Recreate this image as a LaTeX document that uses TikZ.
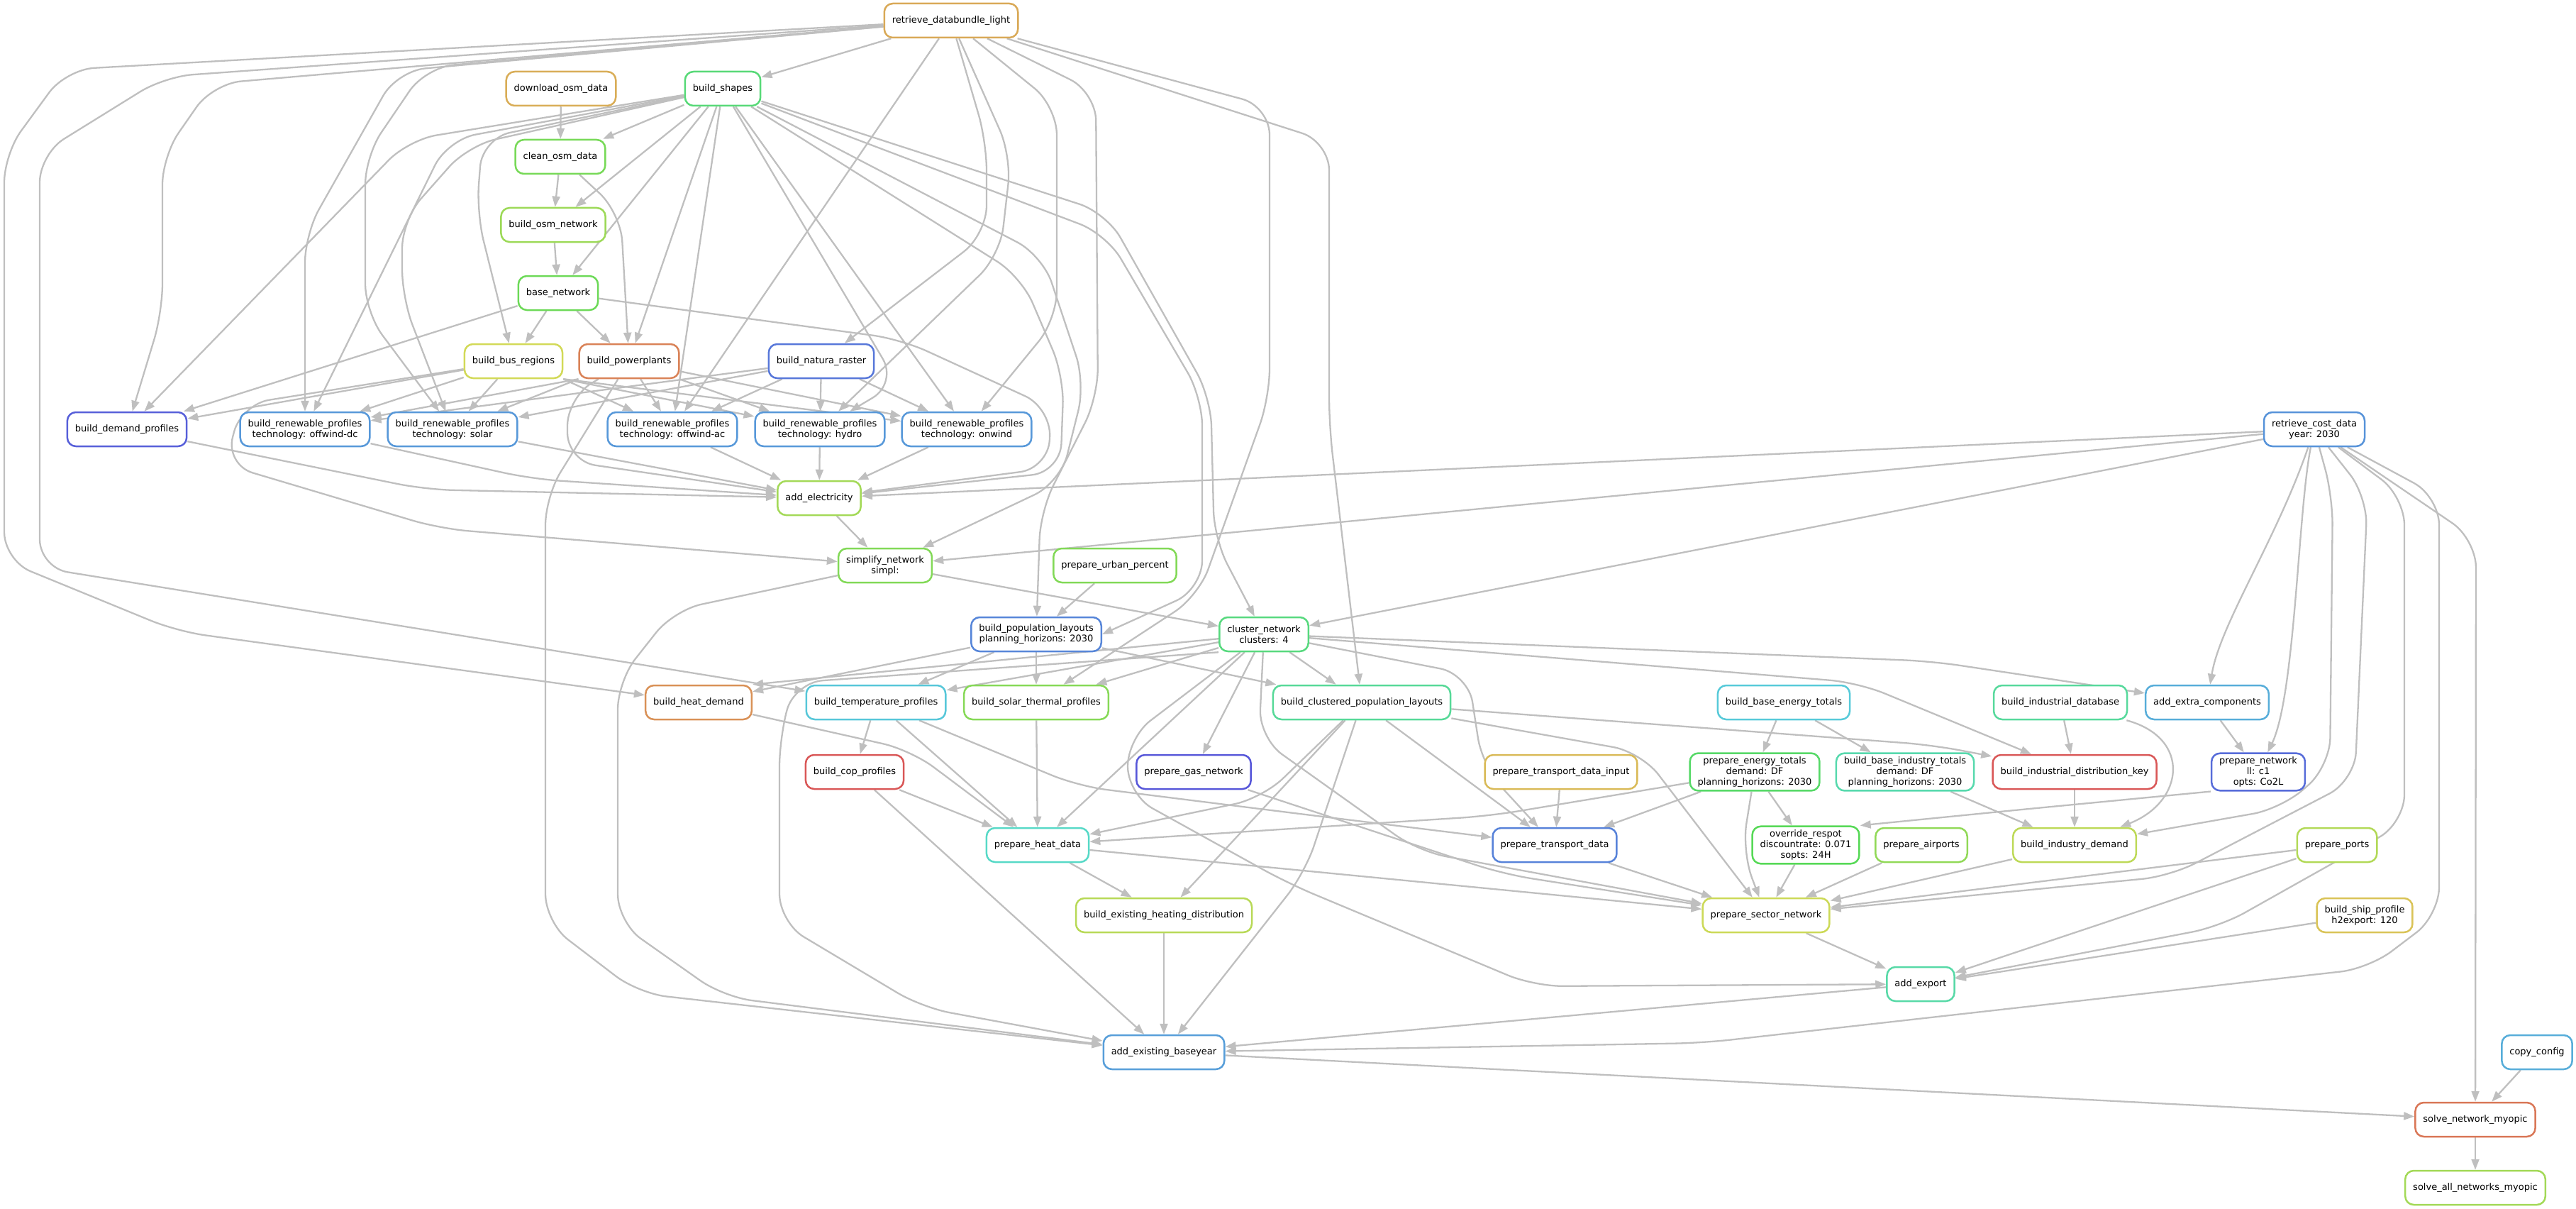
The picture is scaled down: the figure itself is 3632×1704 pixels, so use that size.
\documentclass[tikz,border=0pt]{standalone}
\usepackage{fontspec}
\usepackage{tikz}
\usetikzlibrary{arrows.meta, backgrounds}
\usepackage{xcolor}
\newfontfamily\dagfont{DejaVu Sans}

% rule colours (hue, 0.6, 0.85 as in the snakemake dag), kept as rgb for pgf
\newcommand{\rulecolour}[2]{\definecolor{#1hsb}{Hsb}{#2,0.6,0.85}\colorlet{#1}[rgb]{#1hsb}}
\rulecolour{hBundle}{38}
\rulecolour{hDownload}{40}
\rulecolour{hShapes}{135}
\rulecolour{hCleanOsm}{105}
\rulecolour{hOsmNet}{88}
\rulecolour{hBase}{110}
\rulecolour{hBusReg}{63}
\rulecolour{hPowerpl}{20}
\rulecolour{hNatura}{225}
\rulecolour{hDemand}{236}
\rulecolour{hRenew}{210}
\rulecolour{hAddElec}{85}
\rulecolour{hSimplify}{100}
\rulecolour{hUrban}{100}
\rulecolour{hPopLay}{218}
\rulecolour{hCluster}{138}
\rulecolour{hHeatDem}{27}
\rulecolour{hTemp}{188}
\rulecolour{hSolTh}{98}
\rulecolour{hClPop}{150}
\rulecolour{hBaseEn}{187}
\rulecolour{hTranspIn}{46}
\rulecolour{hEnTot}{128}
\rulecolour{hBaseInd}{160}
\rulecolour{hIndDb}{152}
\rulecolour{hExtra}{200}
\rulecolour{hIndKey}{0}
\rulecolour{hPrepNet}{230}
\rulecolour{hCost}{212}
\rulecolour{hHeatData}{172}
\rulecolour{hExHeat}{75}
\rulecolour{hBaseyear}{207}
\rulecolour{hTransp}{220}
\rulecolour{hRespot}{120}
\rulecolour{hAirports}{93}
\rulecolour{hSector}{66}
\rulecolour{hExport}{157}
\rulecolour{hIndDem}{73}
\rulecolour{hPorts}{78}
\rulecolour{hShip}{50}
\rulecolour{hConfig}{200}
\rulecolour{hSolve}{15}
\rulecolour{hSolveAll}{85}
\rulecolour{hCop}{0}
\rulecolour{hGas}{240}

\begin{document}
\begin{tikzpicture}[
    x=1pt, y=-1pt,
    job/.style={draw=#1, line width=2.5pt, rounded corners=12pt, fill=white,
                font={\dagfont\fontsize{13pt}{15pt}\selectfont}, align=center,
                minimum height=48pt, inner xsep=11pt, inner ysep=5pt},
    dep/.style={draw=black!25, line width=2.3pt, rounded corners=40pt, ->},
    >={Triangle[length=15pt,width=11pt]}
  ]
  \useasboundingbox (0,0) rectangle (3632,1704);

  % Retrieval and shapes
  \node[job=hBundle] (R) at (1341,29) {retrieve\_databundle\_light};
  \node[job=hDownload] (dosm) at (791,125) {download\_osm\_data};
  \node[job=hShapes] (shp) at (1019,125) {build\_shapes};
  \node[job=hCleanOsm] (cosm) at (790,221) {clean\_osm\_data};
  \node[job=hOsmNet] (bosm) at (780,317) {build\_osm\_network};
  \node[job=hBase] (base) at (787,413) {base\_network};
  \node[job=hBusReg] (bus) at (724,509) {build\_bus\_regions};
  \node[job=hPowerpl] (pp) at (887,509) {build\_powerplants};
  \node[job=hNatura] (nat) at (1158,509) {build\_natura\_raster};

  % Electricity network
  \node[job=hDemand] (dem) at (179,605) {build\_demand\_profiles};
  \node[job=hRenew] (rdc) at (430,605) {build\_renewable\_profiles\\technology: offwind-dc};
  \node[job=hRenew] (rsol) at (638,605) {build\_renewable\_profiles\\technology: solar};
  \node[job=hRenew] (rac) at (948,605) {build\_renewable\_profiles\\technology: offwind-ac};
  \node[job=hRenew] (rhyd) at (1156,605) {build\_renewable\_profiles\\technology: hydro};
  \node[job=hRenew] (ron) at (1363,605) {build\_renewable\_profiles\\technology: onwind};
  \node[job=hCost] (cost) at (3263,605) {retrieve\_cost\_data\\year: 2030};
  \node[job=hAddElec] (ael) at (1155,702) {add\_electricity};
  \node[job=hSimplify] (simp) at (1248,797) {simplify\_network\\simpl:};
  \node[job=hUrban] (urb) at (1572,797) {prepare\_urban\_percent};
  \node[job=hPopLay] (pop) at (1461,894) {build\_population\_layouts\\planning\_horizons: 2030};
  \node[job=hCluster] (clu) at (1782,894) {cluster\_network\\clusters: 4};

  % Sector inputs
  \node[job=hHeatDem] (heat) at (985,990) {build\_heat\_demand};
  \node[job=hTemp] (temp) at (1235,990) {build\_temperature\_profiles};
  \node[job=hSolTh] (solth) at (1461,990) {build\_solar\_thermal\_profiles};
  \node[job=hClPop] (cpop) at (1920,990) {build\_clustered\_population\_layouts};
  \node[job=hBaseEn] (bet) at (2515,990) {build\_base\_energy\_totals};
  \node[job=hIndDb] (idb) at (2905,990) {build\_industrial\_database};
  \node[job=hExtra] (extra) at (3112,990) {add\_extra\_components};
  \node[job=hCop] (cop) at (1205,1088) {build\_cop\_profiles};
  \node[job=hGas] (gas) at (1683,1088) {prepare\_gas\_network};
  \node[job=hTranspIn] (tdi) at (2201,1088) {prepare\_transport\_data\_input};
  \node[job=hEnTot] (pet) at (2474,1088) {prepare\_energy\_totals\\demand: DF\\planning\_horizons: 2030};
  \node[job=hBaseInd] (bit) at (2686,1088) {build\_base\_industry\_totals\\demand: DF\\planning\_horizons: 2030};
  \node[job=hIndKey] (idk) at (2925,1088) {build\_industrial\_distribution\_key};
  \node[job=hPrepNet] (pnet) at (3184,1088) {prepare\_network\\ll: c1\\opts: Co2L};
  \node[job=hHeatData] (phd) at (1463,1191) {prepare\_heat\_data};
  \node[job=hTransp] (ptd) at (2192,1191) {prepare\_transport\_data};
  \node[job=hRespot] (ores) at (2546,1191) {override\_respot\\discountrate: 0.071\\sopts: 24H};
  \node[job=hAirports] (air) at (2709,1191) {prepare\_airports};
  \node[job=hIndDem] (ind) at (2925,1191) {build\_industry\_demand};
  \node[job=hPorts] (ports) at (3295,1191) {prepare\_ports};

  % Sector network and solving
  \node[job=hExHeat] (ehd) at (1641,1290) {build\_existing\_heating\_distribution};
  \node[job=hSector] (psn) at (2490,1290) {prepare\_sector\_network};
  \node[job=hShip] (ship) at (3334,1290) {build\_ship\_profile\\h2export: 120};
  \node[job=hExport] (exp) at (2708,1387) {add\_export};
  \node[job=hBaseyear] (aeb) at (1641,1483) {add\_existing\_baseyear};
  \node[job=hConfig] (cfg) at (3577,1483) {copy\_config};
  \node[job=hSolve] (snm) at (3490,1578) {solve\_network\_myopic};
  \node[job=hSolveAll] (sall) at (3490,1674) {solve\_all\_networks\_myopic};

  \begin{scope}[on background layer]
    % osm chain
    \draw[dep] (R) -- (shp);
    \draw[dep] (dosm) -- (cosm);
    \draw[dep] (shp) -- (cosm);
    \draw[dep] (cosm) -- (bosm);
    \draw[dep] (shp) -- (bosm);
    \draw[dep] (bosm) -- (base);
    \draw[dep] (shp) -- (base);
    \draw[dep] (base) -- (bus);
    \draw[dep] (shp) -- (680,195) -- (672,300) -- (bus);
    \draw[dep] (base) -- (pp);
    \draw[dep] (cosm) -- (875,300) -- (pp);
    \draw[dep] (shp) -- (pp);
    \draw[dep] (R) -- (1391,200) -- (1391,330) -- (nat);

    % demand profiles
    \draw[dep] (R) -- (300,118) -- (229,220) -- (229,440) -- (dem);
    \draw[dep] (shp) -- (576,197) -- (dem);
    \draw[dep] (base) -- (dem);
    \draw[dep] (bus) -- (dem);

    % renewable profiles
    \draw[dep] (R) -- (560,100) -- (430,330) -- (rdc);
    \draw[dep] (R) -- (600,95) -- (515,220) -- (515,440) -- (rsol);
    \draw[dep] (R) -- (rac);
    \draw[dep] (R) -- (1426,220) -- (1410,360) -- (rhyd);
    \draw[dep] (R) -- (1490,150) -- (1490,450) -- (ron);
    \draw[dep] (shp) -- (631,197) -- (rdc);
    \draw[dep] (shp) -- (660,205) -- (567,310) -- (567,420) -- (rsol);
    \draw[dep] (shp) -- (rac);
    \draw[dep] (shp) -- (1265,540) -- (rhyd);
    \draw[dep] (shp) -- (ron);
    \draw[dep] (bus) -- (rdc);
    \draw[dep] (bus) -- (rsol);
    \draw[dep] (bus.south east) -- (rac);
    \draw[dep] (bus.south east) -- (rhyd);
    \draw[dep] (bus.south east) -- (ron);
    \draw[dep] (pp.south west) -- (rdc);
    \draw[dep] (pp.south west) -- (rsol);
    \draw[dep] (pp) -- (rac);
    \draw[dep] (pp) -- (rhyd);
    \draw[dep] (pp) -- (ron);
    \draw[dep] (nat) -- (rdc);
    \draw[dep] (nat) -- (rsol);
    \draw[dep] (nat) -- (rac);
    \draw[dep] (nat) -- (rhyd);
    \draw[dep] (nat) -- (ron);

    % add_electricity
    \draw[dep] (dem) -- (600,690) -- (ael);
    \draw[dep] (rdc) -- (750,675) -- (ael);
    \draw[dep] (rsol) -- (ael);
    \draw[dep] (rac) -- (ael);
    \draw[dep] (rhyd) -- (ael);
    \draw[dep] (ron) -- (ael);
    \draw[dep] (pp) -- (800,560) -- (800,650) -- (ael);
    \draw[dep] (base) -- (1270,478) -- (1482,575) -- (1478,660) -- (ael);
    \draw[dep] (shp) -- (1440,390) -- (1500,530) -- (1495,665) -- (ael);
    \draw[dep] (cost) -- (ael);

    % simplify and cluster
    \draw[dep] (ael) -- (simp);
    \draw[dep] (cost) -- (simp);
    \draw[dep] (bus) -- (340,570) -- (318,655) -- (620,745) -- (simp);
    \draw[dep] (shp) -- (1470,360) -- (1530,540) -- (1495,680) -- (simp);
    \draw[dep] (simp) -- (clu);
    \draw[dep] (cost) -- (clu);
    \draw[dep] (shp) -- (1560,300) -- (1707,560) -- (1712,760) -- (clu);

    % population layouts
    \draw[dep] (urb) -- (pop);
    \draw[dep] (R) -- (1545,130) -- (1548,560) -- (1467,720) -- (pop);
    \draw[dep] (shp) -- (1560,330) -- (1695,560) -- (1695,830) -- (pop.east);

    % climate inputs
    \draw[dep] (R) -- (93,98) -- (6,217) -- (6,790) -- (250,890) -- (heat);
    \draw[dep] (R) -- (232,108) -- (56,217) -- (56,800) -- (temp);
    \draw[dep] (R) -- (1790,150) -- (1790,560) -- (1690,840) -- (solth);
    \draw[dep] (R) -- (1874,200) -- (1874,600) -- (cpop);
    \draw[dep] (pop) -- (heat);
    \draw[dep] (pop) -- (temp);
    \draw[dep] (pop) -- (solth);
    \draw[dep] (pop) -- (cpop);
    \draw[dep] (clu) -- (heat.north east);
    \draw[dep] (clu) -- (temp);
    \draw[dep] (clu) -- (solth);
    \draw[dep] (clu) -- (cpop);
    \draw[dep] (temp) -- (cop);
    \draw[dep] (clu) -- (gas);

    % extra components and network
    \draw[dep] (clu) -- (2724,932) -- (extra);
    \draw[dep] (cost) .. controls (3210,760) and (3130,880) .. (extra);
    \draw[dep] (extra) -- (pnet);
    \draw[dep] (cost) .. controls (3240,720) and (3236,980) .. (pnet);

    % industry
    \draw[dep] (bet) -- (pet);
    \draw[dep] (bet) -- (bit);
    \draw[dep] (clu) -- (2620,962) -- (idk);
    \draw[dep] (cpop) -- (2724,1050) -- (idk);
    \draw[dep] (idb) -- (idk);
    \draw[dep] (idk) -- (ind);
    \draw[dep] (bit) -- (ind);
    \draw[dep] (idb) .. controls (3090,1040) and (3080,1130) .. (ind);
    \draw[dep] (cost) -- (3289,700) -- (3285,1080) -- (3216,1140) -- (ind);

    % transport
    \draw[dep] (tdi) -- (ptd);
    \draw[dep] (pet) -- (ptd);
    \draw[dep] (cpop) -- (ptd);
    \draw[dep] (clu) -- (2070,950) -- (2090,1080) -- (ptd);
    \draw[dep] (temp) -- (1520,1108) -- (1816,1145) -- (ptd);

    % heat data
    \draw[dep] (clu) -- (phd);
    \draw[dep] (cpop) -- (1780,1125) -- (phd);
    \draw[dep] (temp) -- (phd);
    \draw[dep] (cop) -- (phd);
    \draw[dep] (solth) -- (phd);
    \draw[dep] (heat) -- (1284,1057) -- (phd);
    \draw[dep] (pet) -- (2100,1150) -- (phd);
    \draw[dep] (phd) -- (ehd);
    \draw[dep] (cpop) -- (ehd);

    % sector network
    \draw[dep] (pet) -- (ores);
    \draw[dep] (pnet.south west) -- (2840,1142) -- (ores.north east);
    \draw[dep] (ores) -- (psn);
    \draw[dep] (ptd) -- (psn);
    \draw[dep] (air) -- (psn);
    \draw[dep] (pet) -- (2456,1200) -- (psn);
    \draw[dep] (cpop) -- (2314,1060) -- (psn);
    \draw[dep] (clu) -- (1775,1040) -- (2000,1200) -- (psn);
    \draw[dep] (gas) -- (2120,1232) -- (psn);
    \draw[dep] (phd) -- (psn);
    \draw[dep] (ind) -- (psn);
    \draw[dep] (ports) -- (psn);
    \draw[dep] (cost) -- (3338,700) -- (3320,1100) -- (3060,1235) -- (psn);

    % export
    \draw[dep] (psn) -- (exp);
    \draw[dep] (clu) -- (1590,1040) -- (1590,1120) -- (1816,1245) -- (2163,1390) -- (exp);
    \draw[dep] (ports) -- (exp);
    \draw[dep] (ship) -- (exp);
    \draw[dep] (cost) -- (3390,700) -- (3390,1160) -- (3130,1306) -- (exp);

    % existing baseyear
    \draw[dep] (exp) -- (aeb);
    \draw[dep] (ehd) -- (aeb);
    \draw[dep] (cop) -- (aeb);
    \draw[dep] (cpop) -- (1840,1230) -- (aeb);
    \draw[dep] (pp) -- (769,700) -- (769,1300) -- (900,1400) -- (aeb);
    \draw[dep] (simp) -- (950,860) -- (871,960) -- (871,1300) -- (1020,1405) -- (aeb);
    \draw[dep] (clu.south west) -- (1120,962) -- (1099,1040) -- (1099,1300) -- (1300,1420) -- (aeb);
    \draw[dep] (cost) -- (3439,700) -- (3439,1290) -- (3340,1365) -- (2400,1470) -- (aeb);

    % solving
    \draw[dep] (aeb) -- (snm);
    \draw[dep] (cost) -- (3491,760) -- (snm);
    \draw[dep] (cfg) -- (snm);
    \draw[dep] (snm) -- (sall);
  \end{scope}
\end{tikzpicture}
\end{document}
